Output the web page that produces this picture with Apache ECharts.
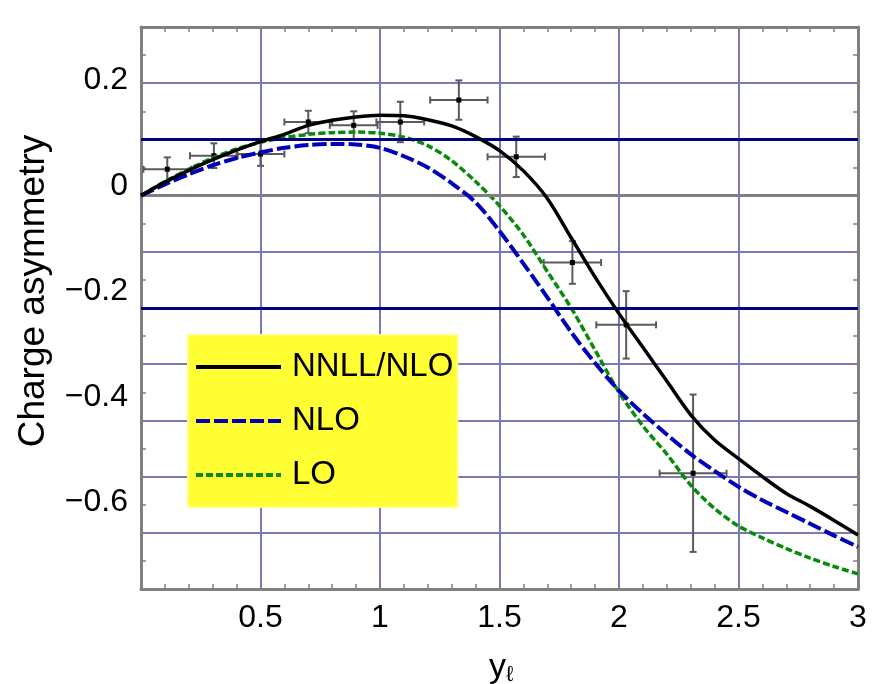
<!DOCTYPE html>
<html><head><meta charset="utf-8">
<script src="https://cdn.jsdelivr.net/npm/echarts@6/dist/echarts.min.js"></script>
<style>html,body{margin:0;padding:0;background:#fff}#c{width:876px;height:684px}</style>
</head><body><div id="c"></div><script>
// ---- data ----
const xGrid = [0,0.1,0.2,0.3,0.4,0.5,0.6,0.7,0.8,0.9,1.0,1.1,1.2,1.3,1.4,1.5,1.6,1.7,1.8,1.9,2.0,2.1,2.2,2.3,2.4,2.5,2.6,2.7,2.8,2.9,3.0];
const nnllNlo = [0,0.024,0.045,0.064,0.081,0.096,0.109,0.125,0.134,0.140,0.143,0.142,0.135,0.124,0.105,0.080,0.044,-0.005,-0.075,-0.145,-0.21,-0.27,-0.33,-0.39,-0.435,-0.468,-0.50,-0.53,-0.553,-0.578,-0.604];
const nlo = [0,0.020,0.038,0.054,0.067,0.077,0.085,0.090,0.092,0.091,0.085,0.070,0.050,0.022,-0.012,-0.063,-0.121,-0.181,-0.243,-0.298,-0.347,-0.388,-0.425,-0.46,-0.49,-0.518,-0.542,-0.563,-0.584,-0.605,-0.625];
const lo = [0,0.025,0.047,0.067,0.083,0.095,0.103,0.109,0.112,0.113,0.111,0.104,0.089,0.062,0.025,-0.018,-0.07,-0.135,-0.2,-0.275,-0.35,-0.41,-0.46,-0.515,-0.557,-0.588,-0.609,-0.628,-0.645,-0.66,-0.673];
const dataX = [0.11,0.305,0.5,0.70,0.89,1.085,1.33,1.57,1.805,2.03,2.31];
const dataY = [0.047,0.071,0.074,0.131,0.125,0.131,0.170,0.069,-0.119,-0.23,-0.494];
const dataXErr = [0.1,0.1,0.1,0.1,0.1,0.1,0.12,0.12,0.12,0.125,0.14];
const dataYErr = [0.021,0.022,0.021,0.02,0.025,0.036,0.035,0.036,0.038,0.06,0.14];
const xTickLabels = [0.5,1,1.5,2,2.5,3];
const yTickLabels = [0.2,0,-0.2,-0.4,-0.6];
const seriesNames = ['NNLL/NLO','NLO','LO'];
const yTitle = 'Charge asymmetry';

// ---- chart ----
const FONT = "'Liberation Sans', Arial, sans-serif";
const GRIDC = '#7a7ab9', FRAME = '#808080';
const chart = echarts.init(document.getElementById('c'), null, {renderer:'canvas'});
const fmt = v => (v < 0 ? '\u2212' + String(Math.abs(v)) : String(v));
const pairs = arr => xGrid.map((x,i)=>[x, arr[i]]);
const errData = dataX.map((x,i)=>[x, dataY[i], dataXErr[i], dataYErr[i]]);

const baseX = {
  type:'value', min:0, max:3, interval:0.5,
  axisLine:{show:true, onZero:false, lineStyle:{color:FRAME, width:3}},
  axisTick:{show:true, inside:true, length:5, lineStyle:{color:FRAME, width:1.5}},
  minorTick:{show:true, splitNumber:5, length:5, lineStyle:{color:FRAME, width:1.5}},
  splitLine:{show:false}
};
const baseY = {
  type:'value', min:-0.7, max:0.3, interval:0.1,
  axisLine:{show:true, onZero:false, lineStyle:{color:FRAME, width:3}},
  axisTick:{show:true, inside:true, length:5, lineStyle:{color:FRAME, width:1.5}},
  minorTick:{show:true, splitNumber:2, length:5, lineStyle:{color:FRAME, width:1.5}},
  splitLine:{show:false}
};

chart.setOption({
  animation:false,
  backgroundColor:'#fff',
  grid:{left:141, right:18, top:27, bottom:95, containLabel:false},
  xAxis:[
    Object.assign({}, baseX, {position:'bottom',
      splitLine:{show:true, lineStyle:{color:GRIDC, width:2}},
      axisLabel:{show:true, customValues:xTickLabels, formatter:fmt, margin:13, fontSize:32, fontFamily:FONT, color:'#000'}}),
    Object.assign({}, baseX, {position:'top', axisLabel:{show:false}})
  ],
  yAxis:[
    Object.assign({}, baseY, {position:'left',
      splitLine:{show:true, lineStyle:{color:GRIDC, width:2}},
      axisLabel:{show:false}}),
    Object.assign({}, baseY, {position:'right', axisLabel:{show:false}}),
    {type:'value', position:'left', offset:0, min:-0.764, max:0.301,
      axisLine:{show:false}, axisTick:{show:false}, splitLine:{show:false},
      axisLabel:{show:true, customValues:yTickLabels, formatter:fmt, margin:13, fontSize:32, fontFamily:FONT, color:'#000'}}
  ],
  legend:{
    data:seriesNames, orient:'vertical', left:188, top:335,
    backgroundColor:'#ffff33', borderColor:'#ffff80', borderWidth:2,
    padding:[12,4,12,6], itemWidth:85, itemHeight:14, itemGap:14,
    itemStyle:{opacity:0},
    lineStyle:{width:4, opacity:1},
    textStyle:{fontSize:33, fontFamily:FONT, color:'#000', lineHeight:40, padding:[0,0,0,6]},
    selectedMode:false
  },
  graphic:[
    {type:'text', x:34, y:291, rotation:Math.PI/2, z:10,
      style:{text:yTitle, fontSize:37, fontFamily:FONT, fill:'#000', textAlign:'center', textVerticalAlign:'middle'}},
    {type:'text', x:501, y:668, z:10,
      style:{text:'{m|y}{s|\u2113}', textAlign:'center', textVerticalAlign:'middle',
        rich:{m:{fontSize:34, fontFamily:FONT, fill:'#000'}, s:{fontSize:22, fontFamily:FONT, fill:'#000', verticalAlign:'bottom', padding:[14,0,0,0]}}}}
  ],
  series:[
    {type:'line', name:'_ref', data:[], silent:true, z:1,
      markLine:{symbol:'none', silent:true, animation:false, label:{show:false},
        data:[
          {yAxis:0.1, lineStyle:{color:'#000080', width:3, type:'solid'}},
          {yAxis:-0.2, lineStyle:{color:'#000080', width:3, type:'solid'}},
          {yAxis:0, lineStyle:{color:'#808080', width:3, type:'solid'}}
        ]}},
    {type:'custom', name:'data', z:3, data:errData, encode:{x:0, y:1},
      renderItem:function(params, api){
        const x=api.value(0), y=api.value(1), ex=api.value(2), ey=api.value(3);
        const c=api.coord([x,y]), l=api.coord([x-ex,y]), r=api.coord([x+ex,y]);
        const t=api.coord([x,y+ey]), b=api.coord([x,y-ey]);
        const st={stroke:'#5a5a5a', lineWidth:2};
        const cap=3.5;
        return {type:'group', children:[
          {type:'line', shape:{x1:l[0],y1:c[1],x2:r[0],y2:c[1]}, style:st},
          {type:'line', shape:{x1:c[0],y1:t[1],x2:c[0],y2:b[1]}, style:st},
          {type:'line', shape:{x1:l[0],y1:c[1]-cap,x2:l[0],y2:c[1]+cap}, style:st},
          {type:'line', shape:{x1:r[0],y1:c[1]-cap,x2:r[0],y2:c[1]+cap}, style:st},
          {type:'line', shape:{x1:c[0]-cap,y1:t[1],x2:c[0]+cap,y2:t[1]}, style:st},
          {type:'line', shape:{x1:c[0]-cap,y1:b[1],x2:c[0]+cap,y2:b[1]}, style:st},
          {type:'rect', shape:{x:c[0]-2.5,y:c[1]-2.5,width:5,height:5}, style:{fill:'#000'}}
        ]};
      }},
    {type:'line', name:'LO', data:pairs(lo), smooth:0.3, symbol:'none', z:4,
      lineStyle:{color:'#0a8a0a', width:3.5, type:[7,3]}, itemStyle:{color:'#0a8a0a'}},
    {type:'line', name:'NLO', data:pairs(nlo), smooth:0.3, symbol:'none', z:5,
      lineStyle:{color:'#0000bb', width:4, type:[14,4]}, itemStyle:{color:'#0000bb'}},
    {type:'line', name:'NNLL/NLO', data:pairs(nnllNlo), smooth:0.3, symbol:'none', z:6,
      lineStyle:{color:'#000', width:3.5, type:'solid'}, itemStyle:{color:'#000'}}
  ]
});
</script></body></html>
